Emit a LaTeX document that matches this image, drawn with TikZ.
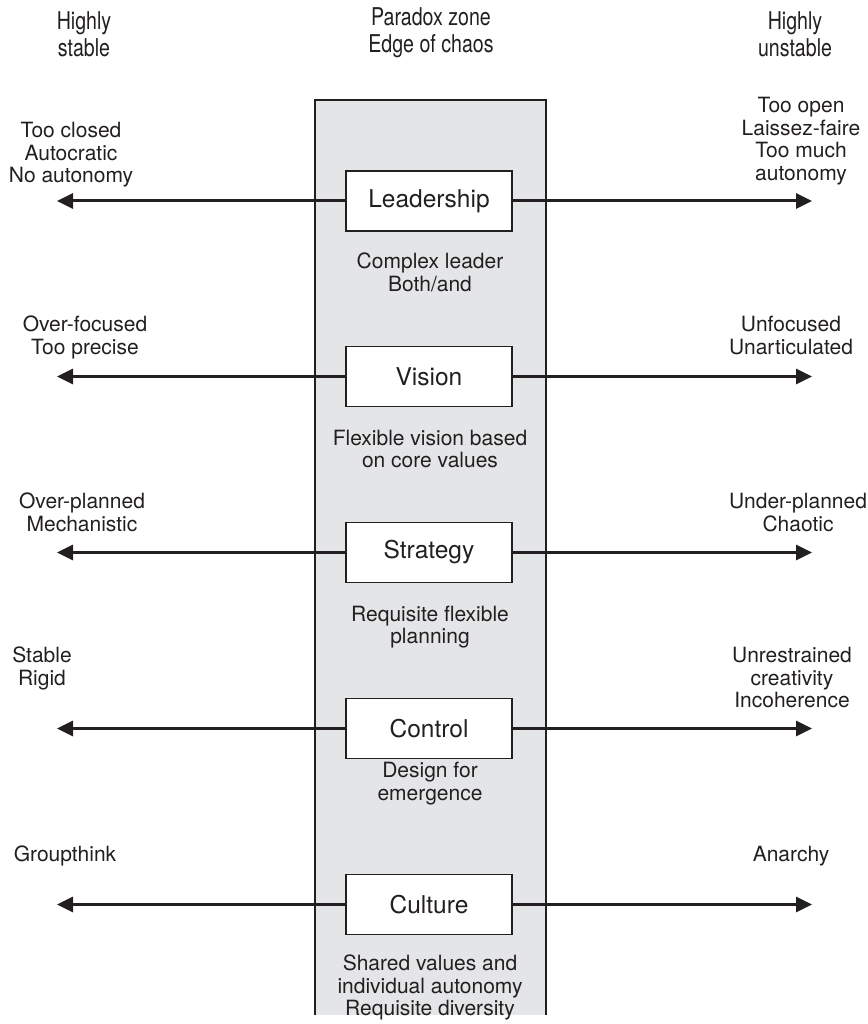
\documentclass[tikz,border=0pt]{standalone}
\usepackage{fontspec}
\setmainfont{TeX Gyre Heros}
\newfontfamily\headfont[FakeStretch=0.8]{TeX Gyre Heros}
\usetikzlibrary{arrows.meta}
\definecolor{zonegray}{HTML}{E4E5E7}
\definecolor{ink}{HTML}{231F20}
\begin{document}
\begin{tikzpicture}[x=1pt,y=-1pt,
  lbl/.style={align=center, inner sep=0pt, anchor=north, text=ink,
    font=\fontsize{21}{22.5}\selectfont},
  hdr/.style={align=center, inner sep=0pt, anchor=north, text=ink,
    font=\headfont\fontsize{24.5}{27.5}\selectfont},
  cbox/.style={draw=ink, line width=1.4pt, fill=white, minimum width=166pt,
    minimum height=60pt, inner sep=0pt, text=ink,
    font=\fontsize{24.5}{26}\selectfont},
  arr/.style={draw=ink, line width=3pt, -{Triangle[length=16pt,width=15pt]}}]
\useasboundingbox (0,0) rectangle (867,1024);

% paradox zone column
\fill[zonegray] (315,100) rectangle (546,1015);
\draw[ink, line width=1.3pt] (315,1015) -- (315,100) -- (546,100) -- (546,1015);

% column headings
\node[hdr] (hstable) at (84,11) {Highly\\stable};
\node[hdr] (hzone) at (431,7) {Paradox zone\\Edge of chaos};
\node[hdr] (hunstable) at (795,11) {Highly\\unstable};

% dimension boxes
\node[cbox] (lead) at (429,201) {Leadership};
\node[cbox] (vis) at (429,376.5) {Vision};
\node[cbox] (strat) at (429,552.5) {Strategy};
\node[cbox] (ctrl) at (429,728.5) {Control};
\node[cbox] (cult) at (429,904.5) {Culture};

% arrow end points
\coordinate (l1) at (57,201);   \coordinate (r1) at (812,201);
\coordinate (l2) at (57,376.5); \coordinate (r2) at (812,376.5);
\coordinate (l3) at (57,552.5); \coordinate (r3) at (812,552.5);
\coordinate (l4) at (57,728.5); \coordinate (r4) at (812,728.5);
\coordinate (l5) at (57,904.5); \coordinate (r5) at (812,904.5);

\draw[arr] (lead.west) -- (l1);  \draw[arr] (lead.east) -- (r1);
\draw[arr] (vis.west) -- (l2);   \draw[arr] (vis.east) -- (r2);
\draw[arr] (strat.west) -- (l3); \draw[arr] (strat.east) -- (r3);
\draw[arr] (ctrl.west) -- (l4);  \draw[arr] (ctrl.east) -- (r4);
\draw[arr] (cult.west) -- (l5);  \draw[arr] (cult.east) -- (r5);

% stable side
\node[lbl] (s1) at (71,122) {Too closed\\Autocratic\\No autonomy};
\node[lbl] (s2) at (85,316) {Over-focused\\Too precise};
\node[lbl] (s3) at (82,493) {Over-planned\\Mechanistic};
\node[lbl] (s4) at (42,647) {Stable\\Rigid};
\node[lbl] (s5) at (65,846) {Groupthink};

% unstable side
\node[lbl] (u1) at (801,97) {Too open\\Laissez-faire\\Too much\\autonomy};
\node[lbl] (u2) at (791,316) {Unfocused\\Unarticulated};
\node[lbl] (u3) at (798,493) {Under-planned\\Chaotic};
\node[lbl] (u4) at (792,647) {Unrestrained\\creativity\\Incoherence};
\node[lbl] (u5) at (791,846) {Anarchy};

% paradox-zone descriptions
\node[lbl] (p1) at (430,253) {Complex leader\\Both/and};
\node[lbl] (p2) at (430,429.5) {Flexible vision based\\on core values};
\node[lbl] (p3) at (430,605.5) {Requisite flexible\\planning};
\node[lbl] (p4) at (430,762) {Design for\\emergence};
\node[lbl] (p5) at (430,955) {Shared values and\\individual autonomy\\Requisite diversity};
\end{tikzpicture}
\end{document}
